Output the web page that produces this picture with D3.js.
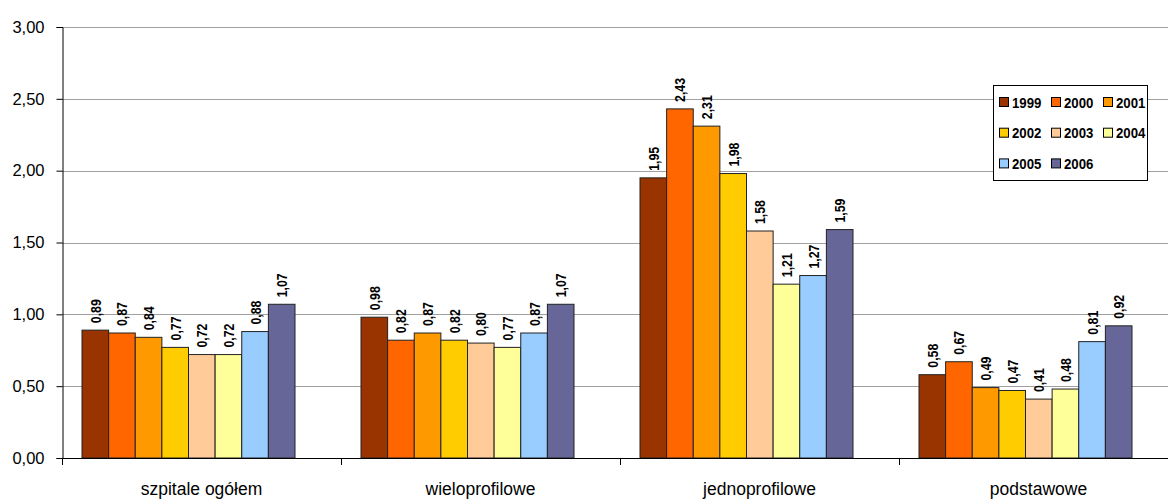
<!DOCTYPE html>
<html><head><meta charset="utf-8">
<script src="https://cdn.jsdelivr.net/npm/d3@7"></script>
<style>body{margin:0;background:#fff;} svg{display:block;font-family:"Liberation Sans",Arial,sans-serif;}</style>
</head><body><svg id="c" width="1168" height="501"></svg>
<script>
const categories = ["szpitale ogółem","wieloprofilowe","jednoprofilowe","podstawowe"];
const years = ["1999","2000","2001","2002","2003","2004","2005","2006"];
const colors = ["#993300","#FF6600","#FF9900","#FFCC00","#FFCC99","#FFFF99","#99CCFF","#666699"];
const v1999 = [0.89,0.98,1.95,0.58];
const v2000 = [0.87,0.82,2.43,0.67];
const v2001 = [0.84,0.87,2.31,0.49];
const v2002 = [0.77,0.82,1.98,0.47];
const v2003 = [0.72,0.80,1.58,0.41];
const v2004 = [0.72,0.77,1.21,0.48];
const v2005 = [0.88,0.87,1.27,0.81];
const v2006 = [1.07,1.07,1.59,0.92];
const series = [v1999,v2000,v2001,v2002,v2003,v2004,v2005,v2006];
const yTicks = [0,0.5,1,1.5,2,2.5,3];

(function(){
const fmt = d => d.toFixed(2).replace(".", ",");
const svg = d3.select("#c");
const pl = 62, pr = 1178, pt = 27, pb = 458;
const x = d3.scaleBand().domain(categories).range([pl, pr]);
const y = d3.scaleLinear().domain([0,3]).range([pb, pt]);
const groupOffset = -13;
const inner = d3.scaleBand().domain(years).range([0, 213]);

// gridlines
svg.append("g").selectAll("line").data(yTicks.filter(d=>d>0)).join("line")
  .attr("x1", pl).attr("x2", pr).attr("y1", d=>Math.round(y(d))+0.5).attr("y2", d=>Math.round(y(d))+0.5)
  .attr("stroke", "#a0a0a0").attr("stroke-width", 1);

// bars
const groups = svg.append("g").selectAll("g").data(categories).join("g")
  .attr("transform", c => `translate(${x(c) + x.bandwidth()/2 - 106.5 + groupOffset},0)`);
groups.each(function(c, ci){
  const g = d3.select(this);
  const data = years.map((yr, i) => ({yr, i, v: series[i][ci]}));
  g.selectAll("rect").data(data).join("rect")
    .attr("x", d => inner(d.yr)).attr("width", inner.bandwidth())
    .attr("y", d => y(d.v)).attr("height", d => pb - y(d.v))
    .attr("fill", d => colors[d.i]).attr("stroke", "#222").attr("stroke-width", 1);
  g.selectAll("text").data(data).join("text")
    .attr("transform", d => `translate(${inner(d.yr) + inner.bandwidth()/2 + 5.5},${y(d.v) - 7}) rotate(-90) scale(0.82,1)`)
    .attr("font-size", 15).attr("font-weight", "bold").attr("fill", "#000")
    .text(d => fmt(d.v));
});

// y axis
const ya = svg.append("g").attr("transform", `translate(${pl+0.5},0)`)
  .call(d3.axisLeft(y).tickValues(yTicks).tickFormat(fmt).tickSize(6).tickPadding(12));
ya.select(".domain").attr("stroke", "#000");
ya.selectAll("line").attr("stroke", "#000");
ya.selectAll("text").attr("font-size", 16.5).attr("fill", "#000").attr("font-family", "Liberation Sans, Arial, sans-serif");

// x axis
svg.append("line").attr("x1", pl).attr("x2", pr).attr("y1", pb+0.5).attr("y2", pb+0.5).attr("stroke", "#000");
svg.append("g").selectAll("line").data(categories).join("line")
  .attr("x1", c => Math.round(x(c))+0.5).attr("x2", c => Math.round(x(c))+0.5)
  .attr("y1", pb).attr("y2", pb+7).attr("stroke", "#000");
svg.append("g").selectAll("text").data(categories).join("text")
  .attr("x", c => x(c) + x.bandwidth()/2).attr("y", 495)
  .attr("text-anchor", "middle").attr("font-size", 17.5).attr("fill", "#000")
  .text(c => c);

// legend
const lg = svg.append("g");
lg.append("rect").attr("x", 993.5).attr("y", 85.5).attr("width", 154).attr("height", 95)
  .attr("fill", "#fff").attr("stroke", "#000");
years.forEach((yr, i) => {
  const col = i % 3, row = Math.floor(i / 3);
  const lx = 999 + col * 52, ly = 97 + row * 30.7;
  lg.append("rect").attr("x", lx + 0.5).attr("y", ly + 0.5).attr("width", 9).attr("height", 9)
    .attr("fill", colors[i]).attr("stroke", "#000");
  lg.append("text").attr("transform", `translate(${lx + 13},${ly + 10.5}) scale(0.88,1)`).attr("font-size", 15)
    .attr("font-weight", "bold").attr("fill", "#000").text(yr);
});
})();
</script></body></html>
